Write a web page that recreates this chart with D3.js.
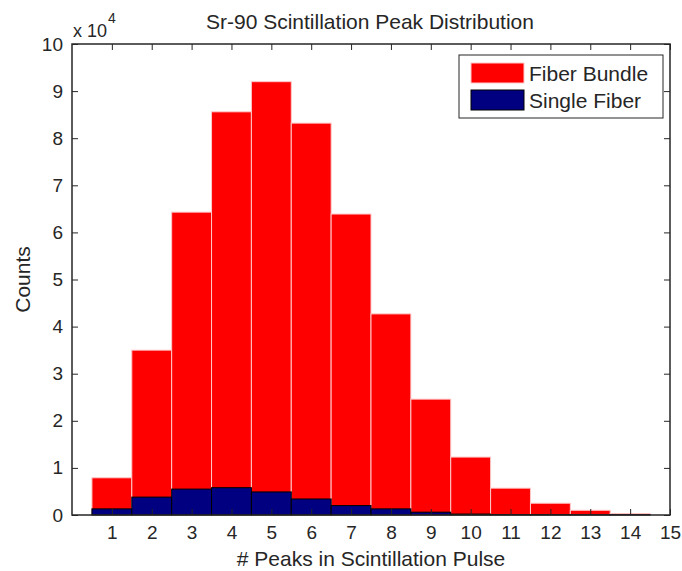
<!DOCTYPE html>
<html>
<head>
<meta charset="utf-8">
<script src="https://cdn.jsdelivr.net/npm/d3@7"></script>
<style>
	body { margin: 0; background: #fff; }
	svg { display: block; font-family: "Liberation Sans", Arial, sans-serif; }
</style>
</head>
<body>
<svg id="chart"></svg>
<script>
// bins: number of peaks per pulse
const peaks = [ 1, 2, 3, 4, 5, 6, 7, 8, 9, 10, 11, 12, 13, 14 ];
// counts, in units of 1e4
const fiberBundle = [ 0.79, 3.50, 6.43, 8.56, 9.20, 8.32, 6.39, 4.27, 2.46, 1.23, 0.57, 0.25, 0.10, 0.03 ];
const singleFiber = [ 0.13, 0.38, 0.55, 0.58, 0.49, 0.34, 0.20, 0.13, 0.06, 0.02, 0.01, 0.01, 0.005, 0.005 ];
const xTicks = d3.range( 1, 16 );
const yTicks = d3.range( 0, 11 );

const width = 682;
const height = 571;
const margin = { top: 44, right: 12, bottom: 56, left: 72 };
const plotW = width - margin.left - margin.right;
const plotH = height - margin.top - margin.bottom;
const ink = '#262626';

const svg = d3.select( '#chart' )
	.attr( 'width', width )
	.attr( 'height', height );

const x = d3.scaleLinear().domain( [ 0, 15 ] ).range( [ 0, plotW ] );
const y = d3.scaleLinear().domain( [ 0, 10 ] ).range( [ plotH, 0 ] );

const g = svg.append( 'g' )
	.attr( 'transform', `translate(${ margin.left },${ margin.top })` );

// red bars (fiber bundle)
g.selectAll( 'rect.bundle' )
	.data( peaks )
	.enter()
	.append( 'rect' )
	.attr( 'class', 'bundle' )
	.attr( 'x', ( d ) => x( d - 0.5 ) )
	.attr( 'y', ( d, i ) => y( fiberBundle[ i ] ) )
	.attr( 'width', x( 1 ) - x( 0 ) )
	.attr( 'height', ( d, i ) => plotH - y( fiberBundle[ i ] ) )
	.attr( 'fill', '#ff0000' )
	.attr( 'stroke', '#ffc8c8' )
	.attr( 'stroke-width', 1 );

// blue bars (single fiber)
g.selectAll( 'rect.single' )
	.data( peaks )
	.enter()
	.append( 'rect' )
	.attr( 'class', 'single' )
	.attr( 'x', ( d ) => x( d - 0.5 ) )
	.attr( 'y', ( d, i ) => y( singleFiber[ i ] ) )
	.attr( 'width', x( 1 ) - x( 0 ) )
	.attr( 'height', ( d, i ) => plotH - y( singleFiber[ i ] ) )
	.attr( 'fill', '#000080' )
	.attr( 'stroke', '#000' )
	.attr( 'stroke-width', 1 );

// axes, matlab style: ticks point inward on all four sides
const tickStyle = ( sel ) => {
	sel.select( '.domain' ).remove();
	sel.selectAll( 'line' ).attr( 'stroke', ink );
	sel.selectAll( 'text' )
		.attr( 'fill', ink )
		.style( 'font-size', '19px' );
};

g.append( 'g' )
	.attr( 'transform', `translate(0,${ plotH })` )
	.call( d3.axisBottom( x ).tickValues( xTicks ).tickSize( -6 ).tickPadding( 11 ) )
	.call( tickStyle );

g.append( 'g' )
	.call( d3.axisTop( x ).tickValues( xTicks ).tickSize( -6 ).tickFormat( '' ) )
	.call( tickStyle );

g.append( 'g' )
	.call( d3.axisLeft( y ).tickValues( yTicks ).tickSize( -6 ).tickPadding( 9 ) )
	.call( tickStyle );

g.append( 'g' )
	.attr( 'transform', `translate(${ plotW },0)` )
	.call( d3.axisRight( y ).tickValues( yTicks ).tickSize( -6 ).tickFormat( '' ) )
	.call( tickStyle );

g.append( 'rect' )
	.attr( 'width', plotW )
	.attr( 'height', plotH )
	.attr( 'fill', 'none' )
	.attr( 'stroke', ink )
	.attr( 'stroke-width', 1.5 );

// exponent label
const expo = svg.append( 'text' )
	.attr( 'x', 73 )
	.attr( 'y', 37 )
	.attr( 'fill', ink )
	.style( 'font-size', '18px' );
expo.append( 'tspan' ).text( 'x 10' );
expo.append( 'tspan' )
	.attr( 'dx', 1 )
	.attr( 'dy', -14 )
	.style( 'font-size', '14px' )
	.text( '4' );

// title and labels
svg.append( 'text' )
	.attr( 'x', 370 )
	.attr( 'y', 29 )
	.attr( 'text-anchor', 'middle' )
	.attr( 'fill', ink )
	.style( 'font-size', '21px' )
	.text( 'Sr-90 Scintillation Peak Distribution' );

svg.append( 'text' )
	.attr( 'x', margin.left + plotW / 2 )
	.attr( 'y', 566 )
	.attr( 'text-anchor', 'middle' )
	.attr( 'fill', ink )
	.style( 'font-size', '21px' )
	.text( '# Peaks in Scintillation Pulse' );

svg.append( 'text' )
	.attr( 'transform', `translate(30,${ margin.top + plotH / 2 }) rotate(-90)` )
	.attr( 'text-anchor', 'middle' )
	.attr( 'fill', ink )
	.style( 'font-size', '21px' )
	.text( 'Counts' );

// legend
const legendItems = [
	{ label: 'Fiber Bundle', fill: '#ff0000', stroke: '#ffc8c8' },
	{ label: 'Single Fiber', fill: '#000080', stroke: '#000' },
];
const legend = svg.append( 'g' ).attr( 'transform', 'translate(459,55)' );
legend.append( 'rect' )
	.attr( 'width', 204 )
	.attr( 'height', 63 )
	.attr( 'fill', '#fff' )
	.attr( 'stroke', ink );
legendItems.forEach( ( item, i ) => {
	const row = legend.append( 'g' ).attr( 'transform', `translate(12,${ 8 + i * 27 })` );
	row.append( 'rect' )
		.attr( 'width', 53 )
		.attr( 'height', 20 )
		.attr( 'fill', item.fill )
		.attr( 'stroke', item.stroke );
	row.append( 'text' )
		.attr( 'x', 58 )
		.attr( 'y', 18 )
		.attr( 'fill', ink )
		.style( 'font-size', '21px' )
		.text( item.label );
} );
</script>
</body>
</html>
